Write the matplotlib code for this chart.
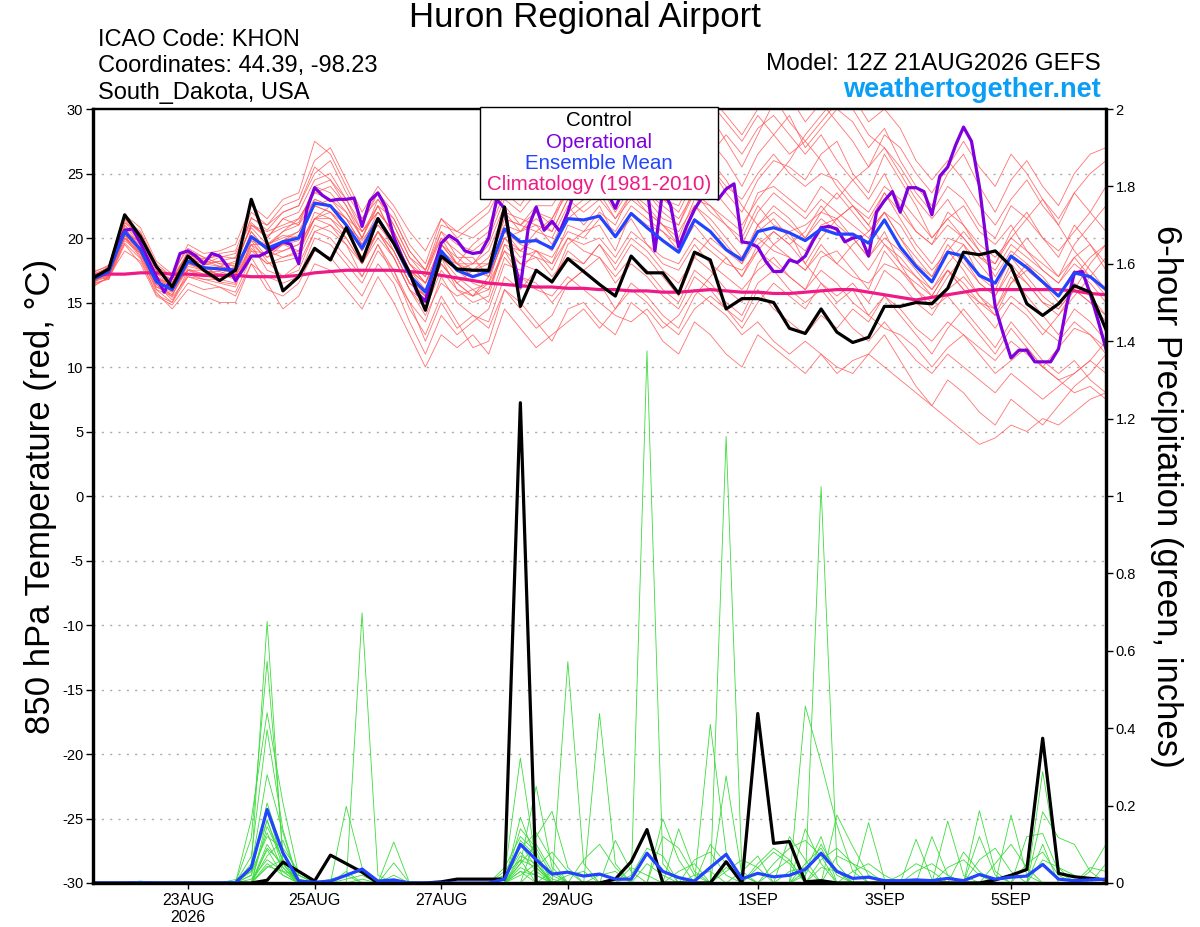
import numpy as np
import matplotlib
matplotlib.use("Agg")
import matplotlib.pyplot as plt
from matplotlib.patches import Rectangle

plt.rcParams["font.family"] = ["Liberation Sans", "DejaVu Sans"]
plt.rcParams["axes.unicode_minus"] = False

# forecast hours (6-hourly ensemble, 3-hourly operational)
hours = np.arange(0, 385, 6)
hours_op = np.arange(0, 385, 3)
tick_hours = [36, 84, 132, 180, 252, 300, 348]
tick_labels = ["23AUG\n2026", "25AUG", "27AUG", "29AUG", "1SEP", "3SEP", "5SEP"]

# 850 hPa temperature, deg C
control_t = [16.9, 17.6, 21.8, 20.1, 17.8, 16.2, 18.6, 17.5, 16.7, 17.5, 23.0, 19.6, 15.9,
             17.0, 19.2, 18.3, 20.8, 18.2, 21.5, 19.6, 17.3, 14.4, 18.6, 17.6, 17.5, 17.5,
             22.4, 14.7, 17.5, 16.6, 18.4, 17.4, 16.4, 15.5, 18.6, 17.3, 17.3, 15.7, 18.9,
             18.3, 14.5, 15.3, 15.3, 15.0, 13.0, 12.6, 14.5, 12.7, 11.9, 12.3, 14.7, 14.7,
             15.0, 14.9, 16.1, 18.9, 18.7, 19.0, 17.8, 14.9, 14.0, 14.9, 16.3, 15.8, 12.9]
mean_t = [16.8, 17.4, 20.5, 19.1, 16.6, 16.0, 18.2, 17.7, 17.6, 17.5, 20.1, 19.2, 19.7,
          20.0, 22.7, 22.5, 21.0, 19.2, 21.5, 19.6, 17.1, 15.8, 19.0, 17.5, 17.0, 17.4,
          20.7, 19.7, 19.8, 19.2, 21.5, 21.4, 21.7, 20.1, 21.9, 20.8, 19.8, 18.9, 21.4,
          20.5, 19.1, 18.3, 20.5, 20.8, 20.4, 19.8, 20.7, 20.3, 20.3, 19.6, 21.4, 19.3,
          17.8, 16.6, 18.9, 18.6, 17.1, 16.5, 18.6, 17.7, 16.6, 15.5, 17.3, 17.0, 16.0]
clim_t = [17.1, 17.2, 17.2, 17.3, 17.3, 17.2, 17.2, 17.1, 17.1, 17.1, 17.0, 17.0, 17.0,
          17.1, 17.3, 17.4, 17.5, 17.5, 17.5, 17.5, 17.4, 17.3, 17.1, 16.9, 16.7, 16.5,
          16.4, 16.3, 16.2, 16.2, 16.1, 16.1, 16.0, 16.0, 15.9, 15.9, 15.8, 15.8, 15.9,
          16.0, 15.9, 15.8, 15.8, 15.7, 15.7, 15.8, 15.9, 16.0, 16.0, 15.8, 15.6, 15.4,
          15.2, 15.4, 15.6, 15.8, 16.0, 16.0, 16.0, 16.0, 16.0, 16.0, 15.9, 15.7, 15.6]
oper_t = [16.9, 17.1, 17.6, 19.3, 20.6, 20.7, 19.6, 18.3, 17.0, 15.8,
          17.0, 18.8, 19.0, 18.6, 18.0, 18.8, 18.6, 17.8, 16.7, 17.6,
          18.6, 18.6, 18.9, 19.3, 19.7, 19.5, 18.0, 22.2, 23.9, 23.3,
          22.9, 23.0, 23.0, 23.1, 20.9, 22.9, 23.5, 22.4, 20.1, 18.6,
          17.3, 15.7, 15.1, 17.5, 19.6, 20.2, 19.8, 19.0, 18.8, 18.9,
          20.0, 23.0, 22.3, 18.7, 16.2, 20.8, 22.4, 20.6, 21.3, 20.5,
          22.0, 24.0, 24.5, 25.0, 24.2, 23.5, 22.3, 23.8, 24.5, 25.2,
          24.0, 19.0, 23.8, 22.5, 19.3, 20.9, 22.2, 23.2, 23.5, 23.0,
          23.8, 24.2, 19.7, 19.6, 19.3, 18.2, 17.4, 17.4, 18.3, 18.1,
          18.6, 19.8, 20.8, 20.9, 20.7, 19.7, 20.0, 20.1, 18.6, 22.0,
          22.9, 23.6, 22.0, 23.9, 23.9, 23.6, 21.8, 24.8, 25.5, 27.2,
          28.6, 27.5, 24.0, 19.1, 14.7, 12.6, 10.7, 11.3, 11.3, 10.4,
          10.4, 10.4, 11.4, 14.7, 17.3, 17.4, 15.7, 13.6, 11.4]

t_m01 = [16.5, 17.8, 21.0, 19.5, 17.2, 16.8, 18.9, 18.0, 18.5, 18.8, 21.2, 20.0, 21.5,
         22.0, 24.5, 25.0, 23.0, 21.0, 23.5, 21.0, 18.5, 17.0, 20.5, 19.5, 19.0, 20.0,
         23.0, 22.0, 23.5, 24.0, 26.0, 27.5, 28.0, 26.0, 27.0, 25.5, 24.0, 23.0, 26.0,
         27.5, 26.0, 24.0, 26.5, 28.0, 29.5, 27.0, 28.5, 30.0, 29.0, 27.0, 28.5, 26.0,
         24.0, 22.5, 25.0, 26.5, 24.0, 22.0, 24.5, 26.0, 24.0, 22.5, 25.0, 26.5, 27.0]
t_m02 = [17.0, 16.8, 19.5, 18.0, 15.5, 14.8, 16.5, 16.0, 16.2, 15.5, 18.0, 17.0, 16.5,
         17.0, 20.0, 19.5, 18.0, 16.5, 19.0, 17.5, 14.5, 12.5, 15.5, 13.5, 11.5, 12.0,
         16.0, 15.0, 13.5, 12.0, 14.5, 15.0, 13.5, 12.5, 15.0, 14.0, 12.0, 11.0, 13.5,
         12.5, 11.0, 10.0, 12.5, 11.5, 10.5, 9.5, 11.0, 10.0, 9.5, 11.0, 12.5, 10.5,
         8.5, 7.0, 9.0, 8.0, 6.5, 5.5, 7.5, 6.5, 5.5, 7.0, 8.5, 9.5, 11.0]
t_m03 = [16.2, 17.0, 20.2, 19.8, 17.0, 16.2, 17.5, 17.2, 17.8, 17.0, 19.5, 18.5, 19.0,
         19.5, 21.5, 22.0, 20.5, 18.5, 20.5, 19.0, 16.5, 15.5, 18.0, 16.5, 17.5, 18.5,
         21.0, 20.5, 22.0, 21.0, 24.0, 25.5, 27.0, 29.0, 30.5, 28.5, 27.0, 25.5, 27.5,
         26.0, 24.5, 22.5, 21.0, 19.5, 20.5, 18.0, 16.5, 15.0, 16.0, 14.0, 13.0, 12.5,
         11.5, 10.0, 11.5, 12.5, 11.0, 9.5, 10.5, 11.5, 10.0, 9.0, 8.0, 8.5, 7.5]
t_m04 = [17.2, 17.5, 20.0, 18.5, 16.0, 15.5, 18.0, 17.5, 17.0, 17.2, 20.5, 19.0, 18.5,
         19.0, 21.5, 21.0, 20.0, 18.0, 20.0, 18.5, 16.0, 14.0, 16.5, 15.5, 16.0, 15.0,
         18.5, 17.0, 16.0, 15.5, 17.0, 16.0, 15.0, 14.0, 13.5, 14.5, 13.0, 14.0, 16.0,
         15.0, 14.0, 12.5, 13.5, 12.0, 11.0, 12.0, 11.0, 9.5, 10.5, 11.0, 10.0, 9.0,
         8.0, 7.0, 6.0, 5.0, 4.0, 4.5, 5.5, 5.0, 6.0, 5.5, 6.5, 7.5, 8.0]
t_m05 = [16.8, 17.2, 21.2, 20.0, 17.5, 16.5, 19.0, 18.5, 18.0, 18.0, 21.0, 20.5, 21.0,
         21.5, 23.5, 24.0, 22.5, 20.0, 22.5, 21.5, 19.0, 17.5, 20.0, 18.0, 17.0, 17.5,
         22.0, 21.5, 21.0, 19.5, 22.0, 23.0, 24.5, 23.0, 25.0, 23.5, 22.0, 21.0, 24.0,
         25.5, 23.5, 22.0, 24.5, 26.0, 25.5, 24.5, 26.5, 27.5, 25.0, 23.5, 26.5, 24.5,
         22.5, 20.0, 21.5, 22.5, 20.5, 19.5, 21.0, 19.0, 17.5, 16.5, 18.5, 19.5, 18.0]
t_m06 = [16.5, 16.8, 19.8, 18.8, 16.2, 15.8, 17.8, 17.5, 17.2, 16.8, 19.0, 18.8, 19.5,
         19.8, 22.5, 23.0, 21.5, 19.5, 21.0, 20.0, 17.5, 16.5, 19.5, 18.5, 18.5, 17.0,
         20.0, 19.0, 20.5, 20.0, 22.5, 21.0, 22.5, 20.0, 21.5, 19.5, 18.0, 17.5, 19.5,
         18.0, 17.0, 16.0, 17.5, 18.5, 17.0, 16.0, 18.5, 19.0, 17.5, 16.0, 19.0, 17.5,
         16.0, 15.0, 17.0, 18.5, 16.5, 15.5, 18.0, 16.5, 15.0, 14.5, 16.0, 15.0, 13.5]
t_m07 = [17.0, 17.8, 20.8, 19.2, 16.8, 16.5, 18.5, 18.2, 18.8, 19.0, 22.0, 21.0, 22.5,
         23.0, 26.0, 27.0, 24.5, 22.0, 24.0, 22.5, 20.5, 19.0, 21.5, 20.0, 21.0, 22.0,
         24.5, 23.5, 25.5, 26.5, 28.5, 29.5, 31.0, 29.0, 30.5, 29.5, 27.0, 25.0, 28.0,
         29.5, 27.5, 25.5, 28.0, 30.5, 31.0, 29.0, 30.5, 29.0, 27.5, 25.5, 28.0, 27.0,
         25.0, 23.5, 25.5, 27.5, 25.5, 24.0, 26.5, 25.0, 23.0, 21.5, 23.5, 22.0, 20.5]
t_m08 = [16.9, 17.3, 20.5, 19.0, 16.4, 15.2, 17.2, 16.8, 16.5, 16.2, 19.5, 17.5, 17.0,
         17.5, 20.5, 21.0, 19.5, 17.0, 19.5, 17.0, 15.0, 13.5, 17.0, 15.0, 14.0, 13.5,
         17.0, 16.0, 17.5, 16.5, 19.0, 18.0, 19.5, 17.5, 19.5, 18.5, 17.0, 15.5, 18.5,
         17.5, 16.0, 15.0, 18.0, 19.5, 18.5, 17.5, 19.5, 18.0, 19.5, 20.5, 22.0, 20.0,
         18.5, 17.0, 19.0, 17.5, 15.5, 14.5, 17.0, 15.5, 14.0, 12.5, 14.5, 13.5, 12.0]
t_m09 = [16.4, 17.6, 21.5, 20.2, 17.8, 17.0, 18.8, 18.3, 17.8, 18.2, 20.8, 19.5, 20.5,
         21.0, 23.0, 22.5, 21.5, 20.5, 22.5, 20.0, 17.0, 15.0, 18.5, 16.0, 15.5, 17.0,
         20.0, 18.5, 19.0, 18.0, 21.0, 20.5, 21.0, 19.0, 22.0, 21.0, 20.5, 19.5, 22.5,
         21.5, 20.0, 18.5, 20.5, 21.5, 20.0, 19.0, 21.0, 21.5, 22.5, 21.0, 23.5, 21.5,
         19.5, 18.0, 20.0, 19.5, 17.0, 16.0, 18.5, 20.0, 18.5, 17.0, 19.5, 21.0, 22.5]
t_m10 = [17.1, 17.0, 19.0, 18.2, 15.8, 14.5, 16.0, 15.5, 15.0, 15.0, 18.0, 16.0, 15.5,
         16.5, 19.0, 18.5, 17.0, 15.5, 18.0, 16.5, 13.5, 11.0, 14.0, 12.5, 13.5, 14.5,
         18.0, 17.5, 19.0, 18.5, 20.5, 20.0, 21.5, 20.5, 22.5, 21.5, 20.5, 19.0, 21.0,
         19.5, 18.5, 17.0, 19.5, 20.5, 19.5, 20.5, 22.5, 21.0, 20.0, 18.5, 20.5, 18.0,
         16.0, 14.5, 15.5, 14.0, 12.5, 11.0, 13.0, 11.5, 10.0, 11.5, 13.0, 12.5, 11.5]
t_m11 = [16.6, 17.4, 20.6, 19.6, 17.2, 16.4, 18.6, 17.9, 18.2, 18.5, 21.5, 21.0, 22.0,
         22.5, 25.5, 24.5, 22.5, 20.5, 22.0, 20.5, 18.0, 16.5, 19.0, 17.5, 16.5, 16.0,
         19.5, 18.0, 17.5, 16.5, 19.5, 20.5, 22.0, 21.0, 23.5, 22.0, 21.0, 20.0, 23.0,
         22.5, 21.5, 20.5, 23.5, 24.0, 23.0, 22.0, 24.0, 23.0, 24.5, 23.0, 25.0, 22.5,
         20.5, 19.5, 22.0, 21.0, 19.0, 18.0, 20.5, 22.0, 20.0, 18.5, 21.0, 19.5, 17.5]
t_m12 = [17.0, 17.6, 20.2, 18.6, 16.2, 15.6, 18.0, 17.8, 17.0, 17.0, 19.2, 18.0, 18.5,
         18.8, 21.5, 21.5, 20.0, 18.0, 20.5, 18.5, 16.0, 15.0, 18.0, 16.5, 15.5, 16.5,
         19.0, 17.0, 16.5, 15.0, 16.5, 17.5, 16.5, 14.5, 16.0, 15.0, 13.5, 12.5, 14.5,
         15.5, 14.5, 13.5, 16.0, 14.5, 13.5, 12.5, 14.0, 13.0, 14.5, 13.5, 15.5, 14.0,
         12.5, 11.0, 13.0, 14.5, 13.0, 11.5, 13.5, 12.0, 10.5, 9.5, 10.5, 9.0, 8.0]
t_m13 = [16.7, 17.5, 21.5, 20.5, 18.0, 17.0, 19.5, 18.8, 19.0, 19.5, 22.5, 21.5, 23.0,
         23.5, 27.5, 26.5, 24.0, 21.5, 23.0, 21.5, 19.0, 17.5, 21.0, 20.5, 21.5, 22.5,
         25.0, 24.0, 26.0, 25.0, 27.0, 26.0, 28.5, 27.5, 29.5, 30.5, 29.0, 27.0, 29.5,
         30.5, 29.0, 27.5, 29.5, 28.0, 26.5, 27.5, 29.0, 30.5, 31.0, 29.0, 30.0, 28.5,
         26.0, 24.5, 26.0, 24.5, 22.5, 21.0, 23.0, 24.5, 22.5, 21.0, 23.5, 25.0, 26.0]
t_m14 = [16.3, 16.9, 20.0, 18.8, 16.6, 16.0, 17.5, 17.0, 17.0, 17.2, 20.2, 19.0, 19.8,
         20.5, 22.5, 22.0, 21.0, 19.0, 21.5, 19.5, 17.0, 16.0, 18.5, 17.0, 16.0, 16.5,
         20.5, 19.5, 19.0, 17.5, 20.0, 19.0, 18.5, 16.5, 18.0, 17.0, 15.5, 14.5, 17.0,
         16.0, 14.5, 13.0, 15.0, 16.5, 15.5, 14.5, 16.5, 15.5, 16.5, 15.0, 17.5, 16.5,
         15.0, 14.0, 16.0, 17.0, 15.5, 14.0, 16.5, 18.0, 17.0, 15.5, 17.5, 16.5, 15.0]
t_m15 = [17.3, 17.9, 21.8, 20.8, 18.2, 17.2, 19.2, 18.5, 18.0, 17.8, 21.0, 20.2, 20.8,
         21.2, 24.0, 23.5, 22.0, 20.0, 23.0, 21.0, 18.5, 17.5, 20.5, 18.5, 17.5, 18.0,
         21.5, 21.0, 22.5, 22.5, 24.5, 23.0, 24.0, 22.0, 24.0, 23.0, 21.5, 21.0, 23.5,
         22.5, 21.0, 19.5, 22.0, 23.5, 22.5, 21.5, 23.0, 22.0, 21.0, 20.0, 22.0, 20.0,
         18.0, 17.0, 19.5, 18.0, 16.5, 15.5, 17.5, 16.5, 15.0, 14.0, 15.5, 17.0, 18.5]
t_m16 = [16.8, 17.0, 20.2, 19.2, 16.5, 15.4, 17.0, 16.8, 16.8, 16.5, 19.0, 18.0, 18.2,
         18.5, 21.0, 20.5, 19.5, 18.0, 20.5, 18.5, 16.0, 14.5, 17.5, 16.0, 15.0, 15.5,
         19.5, 19.0, 20.0, 19.0, 21.5, 22.5, 23.5, 21.5, 23.0, 22.0, 21.0, 20.5, 22.5,
         21.0, 19.5, 18.0, 21.0, 22.0, 21.0, 20.0, 21.5, 20.5, 19.0, 17.5, 19.5, 18.5,
         17.0, 15.5, 17.5, 16.0, 14.5, 13.0, 15.0, 14.0, 12.5, 14.0, 16.0, 15.0, 14.0]
t_m17 = [17.0, 17.4, 21.0, 19.8, 16.8, 15.8, 18.4, 18.0, 17.8, 17.5, 20.0, 19.5, 20.2,
         20.0, 22.5, 22.0, 20.5, 19.5, 22.0, 20.5, 18.0, 16.5, 18.5, 18.0, 18.0, 19.0,
         22.0, 20.5, 21.0, 20.5, 23.0, 22.0, 23.0, 21.5, 23.5, 22.5, 21.0, 19.5, 21.5,
         20.5, 19.0, 18.0, 20.0, 19.0, 18.5, 17.5, 19.0, 18.0, 17.0, 16.5, 18.0, 17.5,
         16.5, 15.5, 17.5, 16.0, 15.0, 14.5, 16.5, 17.5, 16.5, 15.5, 17.0, 18.5, 19.5]
t_m18 = [16.6, 17.2, 20.4, 18.8, 16.0, 15.0, 17.5, 17.5, 17.2, 17.8, 19.5, 19.5, 20.0,
         20.5, 23.0, 22.5, 21.0, 19.0, 21.5, 19.0, 16.5, 15.5, 18.5, 17.5, 18.0, 18.0,
         21.5, 21.0, 22.0, 21.5, 23.5, 24.5, 25.5, 24.0, 25.5, 24.0, 23.0, 22.0, 24.5,
         25.5, 24.0, 23.0, 25.0, 26.5, 25.0, 24.0, 25.0, 24.5, 23.0, 22.0, 24.0, 23.0,
         21.5, 20.0, 21.5, 20.0, 18.5, 18.0, 20.0, 19.0, 18.0, 17.0, 18.5, 17.0, 15.5]
t_m19 = [17.4, 17.8, 20.6, 19.4, 17.0, 16.4, 18.2, 17.6, 17.6, 17.2, 20.5, 19.0, 19.0,
         19.5, 21.5, 22.5, 21.5, 19.5, 21.0, 19.5, 17.5, 16.0, 19.0, 18.0, 17.0, 17.5,
         20.5, 19.0, 18.5, 18.0, 20.0, 19.5, 20.0, 18.5, 20.5, 19.5, 18.5, 18.0, 20.0,
         19.0, 18.0, 17.5, 19.0, 18.0, 17.0, 16.0, 17.5, 16.5, 15.0, 14.0, 15.5, 14.5,
         13.0, 12.0, 13.5, 12.5, 11.5, 10.5, 12.0, 11.0, 10.0, 9.0, 9.5, 10.5, 9.5]
t_m20 = [16.9, 17.1, 20.8, 19.0, 16.8, 16.2, 18.0, 17.6, 17.8, 17.6, 19.8, 19.2, 19.8,
         20.2, 22.8, 22.5, 21.0, 19.8, 21.5, 19.5, 17.5, 16.5, 19.5, 18.0, 17.5, 17.0,
         20.0, 20.5, 21.5, 20.5, 23.0, 23.5, 24.0, 22.5, 24.0, 23.5, 22.5, 21.5, 23.5,
         22.0, 21.0, 20.0, 22.5, 21.0, 20.5, 21.0, 22.0, 21.5, 22.5, 21.5, 23.5, 22.0,
         20.5, 19.5, 21.0, 20.0, 18.5, 17.5, 19.5, 18.5, 17.5, 16.5, 18.0, 17.0, 16.0]
t_m21 = [16.8, 17.6, 21.2, 20.4, 17.6, 16.6, 18.6, 18.4, 18.6, 18.4, 21.6, 20.6, 22.0,
         22.5, 25.0, 26.0, 23.5, 21.5, 23.5, 22.0, 19.5, 18.0, 21.5, 20.5, 20.0, 21.0,
         24.0, 25.5, 27.0, 28.5, 30.0, 31.0, 29.5, 28.0, 29.0, 31.0, 30.0, 28.5, 30.5,
         31.0, 29.5, 28.0, 30.0, 31.0, 29.0, 27.5, 26.0, 24.0, 22.5, 21.0, 19.5, 18.0,
         17.0, 16.0, 17.5, 16.5, 15.0, 14.0, 15.5, 14.5, 13.0, 12.0, 13.5, 12.5, 11.0]
t_m22 = [16.6, 17.0, 19.6, 18.4, 15.6, 15.0, 17.0, 16.6, 16.2, 15.8, 18.5, 16.5, 14.5,
         15.5, 18.0, 17.5, 16.0, 14.5, 17.0, 15.0, 12.5, 10.0, 12.5, 11.5, 12.5, 11.0,
         14.5, 13.0, 11.5, 12.5, 13.5, 14.5, 13.0, 14.5, 16.5, 15.5, 14.0, 13.0, 15.5,
         17.0, 18.5, 17.0, 19.0, 20.5, 19.5, 18.0, 20.0, 21.5, 20.0, 18.5, 20.0, 19.0,
         17.5, 16.0, 18.0, 19.5, 18.0, 16.5, 18.5, 17.0, 15.5, 14.5, 16.0, 18.0, 19.5]
t_m23 = [17.0, 17.3, 20.0, 19.2, 17.0, 16.0, 18.3, 17.4, 17.4, 17.0, 20.0, 18.5, 19.5,
         19.0, 22.0, 21.5, 20.5, 18.5, 20.5, 19.0, 16.5, 15.5, 19.5, 18.0, 19.5, 20.5,
         23.5, 22.5, 24.5, 26.0, 27.5, 26.5, 29.5, 30.5, 28.5, 27.0, 25.0, 23.5, 25.5,
         24.0, 22.5, 21.0, 23.0, 24.5, 26.0, 28.0, 29.5, 31.0, 30.0, 28.0, 27.0, 25.0,
         23.0, 21.5, 23.0, 21.0, 19.5, 18.5, 20.0, 21.5, 23.0, 21.0, 19.0, 17.5, 16.0]
t_m24 = [16.4, 16.9, 20.0, 18.9, 16.4, 15.6, 17.6, 17.2, 16.6, 16.4, 19.8, 18.2, 17.0,
         18.0, 20.5, 20.0, 18.5, 17.0, 19.5, 17.5, 15.0, 12.0, 15.0, 13.0, 14.0, 13.0,
         16.0, 14.5, 13.0, 14.0, 16.5, 17.5, 18.5, 17.0, 18.5, 17.5, 16.0, 15.0, 17.5,
         16.5, 15.0, 14.0, 16.5, 17.5, 16.0, 15.0, 16.0, 14.5, 13.0, 12.0, 13.5, 12.0,
         10.5, 9.5, 11.0, 10.0, 9.0, 8.0, 9.5, 8.5, 7.5, 8.5, 9.5, 10.5, 12.0]
t_m25 = [17.2, 17.7, 21.4, 20.0, 17.4, 16.8, 18.8, 18.0, 18.2, 17.8, 21.0, 20.0, 21.5,
         21.0, 24.0, 24.5, 23.0, 20.5, 22.0, 20.5, 18.0, 17.0, 20.0, 19.0, 18.0, 19.5,
         22.5, 21.0, 20.5, 21.5, 24.0, 23.0, 25.0, 24.5, 26.5, 25.0, 23.0, 22.5, 25.0,
         26.5, 28.0, 26.5, 28.5, 29.5, 28.0, 26.5, 28.0, 26.0, 24.5, 25.5, 27.0, 25.5,
         23.5, 22.0, 24.0, 23.0, 21.0, 20.0, 22.5, 21.5, 20.0, 19.0, 20.5, 22.0, 24.0]
t_m26 = [16.7, 17.2, 20.3, 19.0, 16.6, 15.9, 18.1, 17.7, 17.5, 17.6, 20.0, 19.3, 20.5,
         21.5, 23.5, 23.0, 22.0, 20.0, 22.5, 20.0, 17.0, 15.5, 18.0, 16.5, 15.5, 16.0,
         19.0, 18.0, 18.5, 17.0, 18.5, 18.0, 19.5, 18.0, 20.0, 19.0, 17.5, 16.5, 18.5,
         20.0, 19.0, 18.5, 21.0, 22.5, 21.5, 20.0, 22.0, 23.5, 22.0, 20.5, 22.0, 21.0,
         19.0, 17.5, 19.0, 20.5, 19.0, 17.0, 19.0, 18.0, 16.5, 15.0, 16.5, 15.5, 14.0]
temp_members = [t_m01, t_m02, t_m03, t_m04, t_m05, t_m06, t_m07, t_m08, t_m09, t_m10,
                t_m11, t_m12, t_m13, t_m14, t_m15, t_m16, t_m17, t_m18, t_m19, t_m20,
                t_m21, t_m22, t_m23, t_m24, t_m25, t_m26]

# 6-hour precipitation, inches
control_p = [0, 0, 0, 0, 0, 0, 0, 0, 0, 0, 0, 0.007, 0.054,
             0.03, 0.005, 0.072, 0.05, 0.028, 0, 0, 0, 0, 0.003, 0.01, 0.01, 0.01,
             0.01, 1.241, 0, 0, 0, 0, 0, 0.01, 0.055, 0.138, 0, 0, 0,
             0, 0.055, 0, 0.438, 0.1025, 0.107, 0.003, 0.006, 0, 0, 0, 0, 0,
             0, 0, 0, 0, 0, 0.008, 0.02, 0.035, 0.374, 0.025, 0.016, 0.012, 0.008]
mean_p = [0, 0, 0, 0.001, 0, 0, 0, 0, 0, 0.001, 0.04, 0.19, 0.078,
          0.005, 0.002, 0.005, 0.02, 0.036, 0.005, 0.008, 0, 0, 0, 0, 0, 0,
          0.01, 0.10, 0.06, 0.023, 0.028, 0.018, 0.023, 0.01, 0.01, 0.077, 0.03, 0.014, 0.005,
          0.04, 0.074, 0.011, 0.025, 0.016, 0.02, 0.035, 0.077, 0.03, 0.012, 0.015, 0.006, 0.006,
          0.008, 0.006, 0.012, 0.006, 0.022, 0.01, 0.015, 0.018, 0.048, 0.01, 0.006, 0.008, 0.01]

# ensemble members, nonzero periods only {step index: inches}
p_m01 = {10: 0.04, 11: 0.676, 12: 0.05, 26: 0.01, 27: 0.08, 28: 0.03, 35: 1.375, 36: 0.05,
         45: 0.02, 46: 0.1, 47: 0.03, 56: 0.12, 57: 0.02}
p_m02 = {10: 0.116, 11: 0.573, 12: 0.078, 13: 0.01, 17: 0.698, 18: 0.02, 27: 0.05, 28: 0.25,
         29: 0.04, 40: 1.154, 41: 0.03, 52: 0.113, 53: 0.01}
p_m03 = {10: 0.164, 11: 0.44, 12: 0.207, 13: 0.02, 16: 0.03, 26: 0.02, 27: 0.323, 28: 0.05,
         39: 0.41, 40: 0.08, 46: 1.024, 47: 0.05, 60: 0.1}
p_m04 = {10: 0.069, 11: 0.396, 12: 0.138, 16: 0.198, 17: 0.04, 30: 0.572, 31: 0.05, 45: 0.457,
         46: 0.31, 47: 0.15, 48: 0.03, 60: 0.288, 61: 0.04}
p_m05 = {10: 0.04, 11: 0.28, 12: 0.13, 19: 0.106, 27: 0.17, 28: 0.06, 32: 0.438, 33: 0.05,
         40: 0.277, 41: 0.02, 45: 0.03, 46: 0.12, 49: 0.156, 50: 0.01}
p_m06 = {10: 0.02, 11: 0.207, 12: 0.078, 19: 0.052, 28: 0.12, 29: 0.185, 30: 0.04, 44: 0.12,
         45: 0.06, 54: 0.16, 55: 0.02, 63: 0.03, 64: 0.1}
p_m07 = {9: 0.009, 10: 0.03, 11: 0.19, 12: 0.05, 26: 0.04, 27: 0.12, 28: 0.08, 36: 0.166,
         37: 0.06, 47: 0.176, 48: 0.094, 49: 0.02, 58: 0.176, 59: 0.02}
p_m08 = {11: 0.164, 12: 0.04, 16: 0.02, 17: 0.03, 27: 0.06, 29: 0.03, 37: 0.14, 38: 0.03,
         42: 0.05, 43: 0.09, 44: 0.06, 56: 0.187, 57: 0.03}
p_m09 = {11: 0.146, 12: 0.06, 27: 0.1, 28: 0.04, 33: 0.11, 34: 0.03, 41: 0.03, 42: 0.07,
         45: 0.14, 46: 0.05, 60: 0.184, 61: 0.117, 62: 0.1, 63: 0.03}
p_m10 = {10: 0.02, 11: 0.13, 12: 0.03, 15: 0.01, 16: 0.02, 27: 0.14, 28: 0.09, 29: 0.02,
         38: 0.06, 39: 0.08, 40: 0.02, 53: 0.12, 54: 0.02, 59: 0.12, 60: 0.128, 61: 0.03}
p_m11 = {11: 0.10, 12: 0.04, 19: 0.01, 26: 0.03, 27: 0.09, 28: 0.13, 29: 0.06, 34: 0.02,
         35: 0.09, 36: 0.07, 43: 0.05, 44: 0.09, 45: 0.11, 46: 0.07, 64: 0.05}
p_m12 = {11: 0.086, 12: 0.02, 17: 0.01, 27: 0.07, 28: 0.05, 31: 0.06, 32: 0.1, 33: 0.04,
         39: 0.1, 40: 0.05, 47: 0.07, 48: 0.05, 49: 0.03, 57: 0.05, 58: 0.1, 59: 0.04}
p_m13 = {11: 0.043, 12: 0.03, 13: 0.02, 27: 0.05, 28: 0.1, 29: 0.03, 36: 0.12, 37: 0.09,
         38: 0.02, 42: 0.04, 43: 0.08, 44: 0.05, 55: 0.08, 56: 0.03}
p_m14 = {10: 0.03, 11: 0.12, 12: 0.09, 13: 0.03, 27: 0.11, 28: 0.07, 29: 0.01, 35: 0.05,
         36: 0.02, 46: 0.06, 47: 0.09, 48: 0.05, 51: 0.02, 52: 0.05, 53: 0.03}
p_m15 = {11: 0.07, 12: 0.11, 13: 0.01, 16: 0.01, 17: 0.02, 28: 0.04, 29: 0.08, 30: 0.03,
         40: 0.03, 41: 0.06, 42: 0.04, 60: 0.06, 61: 0.04, 62: 0.02}
p_m16 = {10: 0.05, 11: 0.16, 12: 0.06, 27: 0.04, 28: 0.02, 37: 0.03, 38: 0.05, 45: 0.05,
         46: 0.09, 47: 0.02, 56: 0.06, 57: 0.09, 58: 0.03}
p_m17 = {11: 0.05, 12: 0.02, 19: 0.02, 27: 0.03, 34: 0.04, 35: 0.02, 43: 0.03, 44: 0.06,
         48: 0.03, 49: 0.05, 50: 0.02, 63: 0.04, 64: 0.03}
p_m18 = {11: 0.09, 12: 0.05, 26: 0.02, 27: 0.06, 28: 0.04, 32: 0.02, 33: 0.03, 40: 0.04,
         41: 0.02, 50: 0.01, 54: 0.04, 55: 0.06, 56: 0.02}
p_m19 = {3: 0.005, 10: 0.01, 11: 0.06, 12: 0.03, 27: 0.02, 28: 0.05, 30: 0.02, 31: 0.03,
         44: 0.03, 45: 0.04, 59: 0.05, 60: 0.08, 61: 0.02}
p_m20 = {11: 0.04, 12: 0.06, 13: 0.02, 27: 0.03, 28: 0.02, 38: 0.02, 39: 0.03, 46: 0.04,
         47: 0.03, 52: 0.03, 53: 0.05, 54: 0.02}
precip_members = [p_m01, p_m02, p_m03, p_m04, p_m05, p_m06, p_m07, p_m08, p_m09, p_m10,
                  p_m11, p_m12, p_m13, p_m14, p_m15, p_m16, p_m17, p_m18, p_m19, p_m20]

RED = "#ff5a5a"
GREEN = "#3ddc3d"
PURPLE = "#7f00dd"
BLUE = "#2244ff"
PINK = "#ee1a85"


def dense(sparse):
    arr = np.zeros(len(hours))
    for k, v in sparse.items():
        arr[k] = v
    return arr


fig = plt.figure(figsize=(12, 9.27), dpi=100)
ax = fig.add_axes([93 / 1200, 1 - 883 / 927, 1013 / 1200, 774 / 927])
ax2 = ax.twinx()

# temperature
for m in temp_members:
    ax.plot(hours, m, color=RED, lw=0.6, alpha=0.85)
ax.plot(hours, clim_t, color=PINK, lw=2.3)
ax.plot(hours_op, oper_t, color=PURPLE, lw=2.3)
ax.plot(hours, mean_t, color=BLUE, lw=2.3)
ax.plot(hours, control_t, color="black", lw=2.3)

# precipitation
for m in precip_members:
    ax2.plot(hours, dense(m), color=GREEN, lw=0.6)
ax2.plot(hours, control_p, color="black", lw=2.3)
ax2.plot(hours, mean_p, color=BLUE, lw=2.3)

ax.set_xlim(0, 384)
ax.set_ylim(-30, 30)
ax2.set_ylim(0, 2)
ax.set_yticks(np.arange(-30, 31, 5))
ax2.set_yticks(np.arange(0, 2.01, 0.2))
ax2.set_yticklabels([f"{v:g}" for v in np.arange(0, 2.01, 0.2).round(1)])
ax.set_xticks(tick_hours)
ax.set_xticklabels(tick_labels)

for y in np.arange(-25, 30, 5):
    ax.axhline(y, color="#aaaaaa", lw=1.0, ls=(0, (1.5, 4.5)), zorder=0)

for a in (ax, ax2):
    a.spines["left"].set_linewidth(2.3)
    a.spines["bottom"].set_linewidth(2.3)
    a.spines["right"].set_linewidth(2.3)
    a.spines["top"].set_linewidth(1.6)
ax.tick_params(axis="y", labelsize=10.5, length=5, width=1, pad=2)
ax2.tick_params(axis="y", labelsize=10.5, length=5, width=1, pad=2)
ax.tick_params(axis="x", labelsize=11.5, length=4, width=1, pad=3)

ax.set_ylabel("850 hPa Temperature (red, °C)", fontsize=25, labelpad=3.5)
ax2.set_ylabel("6-hour Precipitation (green, inches)", fontsize=25,
               rotation=270, labelpad=34)

# legend box
ax2.add_patch(Rectangle((0.382, 0.884), 0.235, 0.118, transform=ax2.transAxes,
                        facecolor="white", edgecolor="black", lw=1.0,
                        zorder=20, clip_on=False))
for txt, col, yy in [("Control", "black", 0.9845),
                     ("Operational", PURPLE, 0.957),
                     ("Ensemble Mean", BLUE, 0.930),
                     ("Climatology (1981-2010)", PINK, 0.902)]:
    ax2.text(0.4995, yy, txt, color=col, fontsize=14.8, ha="center", va="center",
             transform=ax2.transAxes, zorder=21)

# header
fig.text(585 / 1200, 1 - 18 / 927, "Huron Regional Airport", fontsize=25,
         ha="center", va="center")
fig.text(98 / 1200, 1 - 40 / 927, "ICAO Code: KHON", fontsize=17, va="center")
fig.text(98 / 1200, 1 - 66 / 927, "Coordinates: 44.39, -98.23", fontsize=17, va="center")
fig.text(98 / 1200, 1 - 93 / 927, "South_Dakota, USA", fontsize=17, va="center")
fig.text(1101 / 1200, 1 - 64 / 927, "Model: 12Z 21AUG2026 GEFS", fontsize=17.5,
         ha="right", va="center")
fig.text(1101 / 1200, 1 - 90 / 927, "weathertogether.net", fontsize=19.5,
         fontweight="bold", color="#0a9ef5", ha="right", va="center")

fig.savefig("out.png", dpi=100)
